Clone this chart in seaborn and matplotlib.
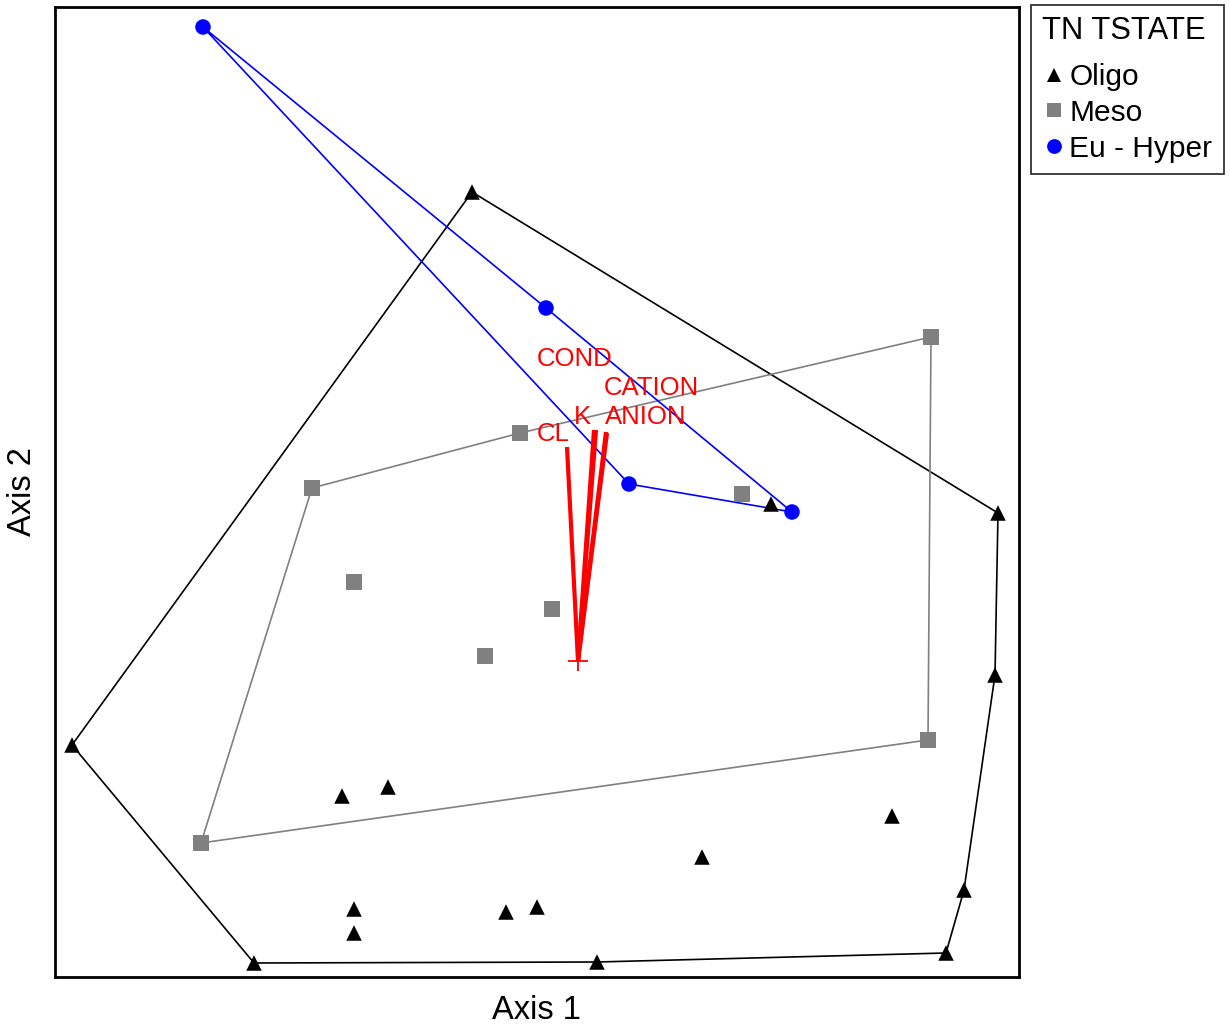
import numpy as np
import pandas as pd
import matplotlib
matplotlib.use("Agg")
import matplotlib.pyplot as plt
import seaborn as sns

# ---- data (ordination scores, arbitrary units) ----
oligo_x = [472, 998, 771, 995, 72, 342, 388, 892, 702, 964, 354, 354, 506, 537, 254, 597, 946]
oligo_y = [837, 516, 525, 354, 284, 233, 242, 213, 172, 139, 120, 96, 117, 122, 66, 67, 76]
meso_x = [931, 520, 312, 742, 354, 552, 485, 928, 201]
meso_y = [692, 596, 541, 535, 447, 420, 373, 289, 186]
eu_x = [203, 546, 629, 792]
eu_y = [1002, 721, 545, 517]

groups = ["Oligo", "Meso", "Eu - Hyper"]

vec_names = ["COND", "CATION", "K", "ANION", "CL"]
vec_origin = (578, 368)
vec_tip_x = [596, 606, 594, 607, 567]
vec_tip_y = [599, 597, 599, 596, 582]
vec_label_x = [575, 651, 582, 646, 553]
vec_label_y = [670, 641, 612, 612, 595]

x_range = (55, 1019)
y_range = (52, 1022)

# ---- build table ----
df = pd.DataFrame({
    "x": oligo_x + meso_x + eu_x,
    "y": oligo_y + meso_y + eu_y,
    "state": ["Oligo"] * len(oligo_x) + ["Meso"] * len(meso_x) + ["Eu - Hyper"] * len(eu_x),
})

colors = {"Oligo": "#000000", "Meso": "#808080", "Eu - Hyper": "#0000FF"}
markers = {"Oligo": "^", "Meso": "s", "Eu - Hyper": "o"}
hull_colors = {"Oligo": "#000000", "Meso": "#808080", "Eu - Hyper": "#0000FF"}


def convex_hull(pts):
    pts = sorted(set(pts))
    if len(pts) <= 2:
        return pts

    def cross(o, a, b):
        return (a[0] - o[0]) * (b[1] - o[1]) - (a[1] - o[1]) * (b[0] - o[0])

    lower = []
    for p in pts:
        while len(lower) >= 2 and cross(lower[-2], lower[-1], p) <= 0:
            lower.pop()
        lower.append(p)
    upper = []
    for p in reversed(pts):
        while len(upper) >= 2 and cross(upper[-2], upper[-1], p) <= 0:
            upper.pop()
        upper.append(p)
    return lower[:-1] + upper[:-1]


sns.set_style("white")
plt.rcParams["font.family"] = ["Liberation Sans", "DejaVu Sans"]
plt.rcParams["text.color"] = "black"
plt.rcParams["axes.labelcolor"] = "black"

fig = plt.figure(figsize=(12.3, 10.29), dpi=100)
ax = fig.add_axes([55 / 1230, 52 / 1029, 964 / 1230, 970 / 1029])

# hulls
for g in groups:
    sub = df[df.state == g]
    hull = convex_hull(list(zip(sub.x, sub.y)))
    hull.append(hull[0])
    hx, hy = zip(*hull)
    ax.plot(hx, hy, color=hull_colors[g], lw=1.2, zorder=1)

# biplot vectors
for tx, ty in zip(vec_tip_x, vec_tip_y):
    ax.plot([vec_origin[0], tx], [vec_origin[1], ty], color="#FF0000", lw=3, zorder=2,
            solid_capstyle="butt")
ax.plot([vec_origin[0]], [vec_origin[1]], marker="+", color="#FF0000", ms=14, mew=1.3, zorder=3)
for name, lx, ly in zip(vec_names, vec_label_x, vec_label_y):
    ax.text(lx, ly, name, color="#FF0000", fontsize=18.5, ha="center", va="center", zorder=4)

sns.scatterplot(data=df, x="x", y="y", hue="state", style="state",
                hue_order=groups, style_order=groups,
                palette=colors, markers=markers, s=125, edgecolor="none",
                linewidth=0, ax=ax, zorder=5)

ax.set_xlim(*x_range)
ax.set_ylim(*y_range)
ax.set_xticks([])
ax.set_yticks([])
ax.set_xlabel("Axis 1", fontsize=23.5, labelpad=13, color="black")
ax.set_ylabel("Axis 2", fontsize=23.5, labelpad=12, color="black")
for sp in ax.spines.values():
    sp.set_visible(True)
    sp.set_color("black")
    sp.set_linewidth(2)

sns.move_legend(ax, "upper left", bbox_to_anchor=(1031 / 1230, 1 - 5 / 1029),
                bbox_transform=fig.transFigure, title="TN TSTATE",
                frameon=True, fontsize=21.5, title_fontsize=22.2,
                handletextpad=0.1, handlelength=0.8, borderpad=0.38,
                labelspacing=0.26, borderaxespad=0, markerscale=0.95)
leg = ax.get_legend()
leg.get_frame().set_edgecolor("black")
leg.get_frame().set_linewidth(1.3)
leg.get_frame().set_boxstyle("square", pad=0)
leg._legend_box.align = "left"
leg._legend_box.sep = 12
for t in leg.get_texts():
    t.set_color("black")
leg.get_title().set_color("black")

fig.savefig("out.png", dpi=100, facecolor="white")
